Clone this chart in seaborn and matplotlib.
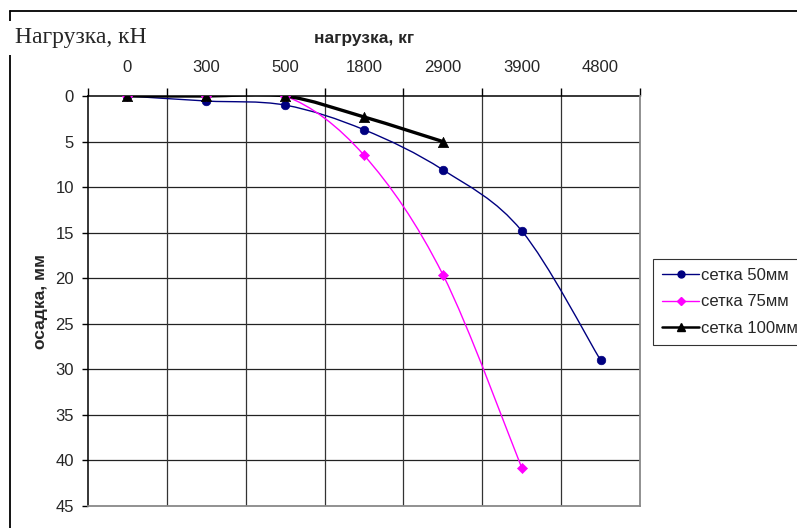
import numpy as np
import matplotlib
matplotlib.use("Agg")
import matplotlib.pyplot as plt
from matplotlib.path import Path
from matplotlib.patches import PathPatch
from matplotlib.lines import Line2D
import seaborn as sns

# Load steps (category axis, shown on top) and settlement per mesh size
loads = ["0", "300", "500", "1800", "2900", "3900", "4800"]
mesh_50 = [0.0, 0.55, 1.0, 3.7, 8.1, 14.8, 29.0]
mesh_75 = [0.0, 0.0, 0.0, 6.5, 19.6, 40.8]
mesh_100 = [0.0, 0.0, 0.0, 2.3, 5.0]
series_names = ["сетка 50мм", "сетка 75мм", "сетка 100мм"]
y_ticks = [0, 5, 10, 15, 20, 25, 30, 35, 40, 45]

sns.set_theme(style="white")
plt.rcParams["font.family"] = ["Liberation Sans", "DejaVu Sans"]

W, H = 797, 528
fig = plt.figure(figsize=(W / 100, H / 100), dpi=100)
ax = fig.add_axes([88 / W, 1 - 506 / H, (640 - 88) / W, (506 - 96) / H])


def smooth_path(xs, ys):
    """Excel-style smoothed line: cubic Bezier segments with Catmull-Rom controls."""
    P = np.column_stack([xs, ys]).astype(float)
    verts = [P[0]]
    codes = [Path.MOVETO]
    n = len(P)
    for i in range(n - 1):
        p0 = P[i - 1] if i > 0 else P[i]
        p1, p2 = P[i], P[i + 1]
        p3 = P[i + 2] if i + 2 < n else P[i + 1]
        c1 = p1 + (p2 - p0) / 6.0
        c2 = p2 - (p3 - p1) / 6.0
        verts += [c1, c2, p2]
        codes += [Path.CURVE4] * 3
    return Path(verts, codes)


styles = [
    (mesh_50, "#000080", 1.0, "o", 38, 5.0),
    (mesh_75, "#FF00FF", 1.0, "D", 26, 4.2),
    (mesh_100, "#000000", 2.4, "^", 55, 5.5),
]

handles = []
for (vals, color, lw, marker, s, ms), name in zip(styles, series_names):
    xs = np.arange(len(vals))
    ax.add_patch(PathPatch(smooth_path(xs, vals), fill=False, edgecolor=color,
                           linewidth=lw, zorder=3, capstyle="round", joinstyle="round"))
    sns.scatterplot(x=xs, y=vals, ax=ax, color=color, marker=marker, s=s,
                    edgecolor=color, linewidth=0.5, zorder=4, legend=False)
    handles.append(Line2D([], [], color=color, lw=1.0 if lw < 2 else 1.8,
                          marker=marker, markersize=ms, markerfacecolor=color,
                          markeredgecolor=color, label=name))

ax.set_xlim(-0.5, len(loads) - 0.5)
ax.set_ylim(45, 0)

# category labels on top, tick marks on category boundaries
ax.xaxis.tick_top()
ax.set_xticks(np.arange(len(loads)))
ax.set_xticklabels(loads, fontsize=12)
ax.set_xticks(np.arange(len(loads) + 1) - 0.5, minor=True)
ax.tick_params(axis="x", which="major", length=0, pad=15, top=True, bottom=False)
ax.tick_params(axis="x", which="minor", direction="out", length=6, width=1,
               color="black", top=True, bottom=False)

ax.set_yticks(y_ticks)
ax.set_yticklabels([str(v) for v in y_ticks], fontsize=12)
ax.tick_params(axis="y", which="major", direction="out", length=4, width=1,
               color="black", pad=6, left=True)

# grid
for v in y_ticks[1:-1]:
    ax.axhline(v, color="#222222", lw=0.9, zorder=1)
for v in np.arange(1, len(loads)) - 0.5:
    ax.axvline(v, color="#333333", lw=0.9, zorder=1)

for side in ["top", "left"]:
    ax.spines[side].set_visible(True)
    ax.spines[side].set_color("black")
    ax.spines[side].set_linewidth(1.1)
for side in ["bottom", "right"]:
    ax.spines[side].set_visible(True)
    ax.spines[side].set_color("#888888")
    ax.spines[side].set_linewidth(1.3)
ax.spines["top"].set_zorder(2)

ax.set_xlabel("нагрузка, кг", fontsize=12.5, fontweight="bold")
ax.xaxis.set_label_position("top")
ax.xaxis.set_label_coords(0.5, (506 - 38) / 410)
ax.xaxis.label.set_verticalalignment("center")

ax.set_ylabel("осадка, мм", fontsize=12.5, fontweight="bold")
ax.yaxis.set_label_coords((40 - 88) / 552, 0.5)
ax.yaxis.label.set_verticalalignment("center")

leg = fig.legend(handles=handles, loc="upper left",
                 bbox_to_anchor=(653 / W, 1 - 259 / H), bbox_transform=fig.transFigure,
                 fontsize=12, frameon=True, fancybox=False, borderpad=0.55,
                 labelspacing=0.68, handlelength=2.2, handletextpad=0.15,
                 borderaxespad=0)
leg.get_frame().set_edgecolor("black")
leg.get_frame().set_linewidth(0.8)

# outer frame
fig.add_artist(Line2D([10 / W, 1.0], [1 - 11 / H, 1 - 11 / H], transform=fig.transFigure,
                      color="black", lw=1.3))
fig.add_artist(Line2D([10 / W, 10 / W], [0, 1 - 11 / H], transform=fig.transFigure,
                      color="black", lw=1.3))
fig.text(15 / W, 1 - 38 / H, "Нагрузка, кН", fontsize=17,
         family=["Liberation Serif", "DejaVu Serif"], ha="left", va="center",
         bbox=dict(boxstyle="square,pad=0.28", facecolor="white", edgecolor="none"))

fig.savefig("out.png", dpi=100, facecolor="white")
